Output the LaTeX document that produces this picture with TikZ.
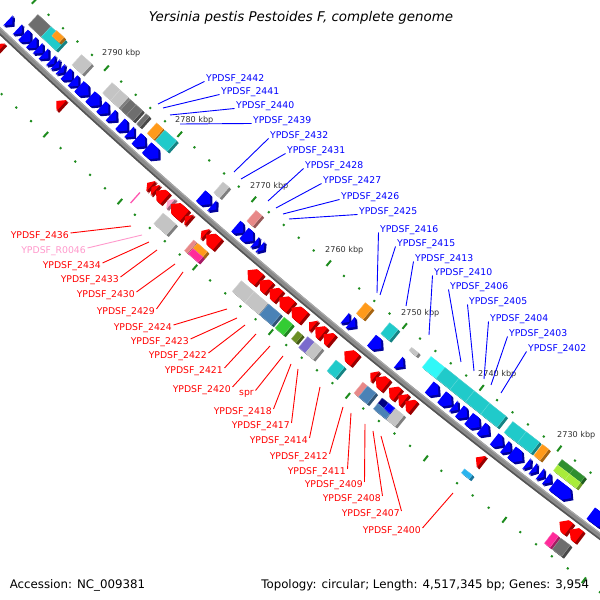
\documentclass[tikz,border=0pt]{standalone}
\usepackage{fontspec}
\setmainfont{DejaVu Sans}
\definecolor{lblue}{HTML}{0000FF}
\definecolor{lred}{HTML}{FF0000}
\definecolor{lpink}{HTML}{FF99CC}
\definecolor{kbpc}{HTML}{333333}
\definecolor{tickg}{HTML}{1E8C1E}
\definecolor{bbgray}{HTML}{8A8A8A}
\definecolor{bbdark}{HTML}{555555}
\definecolor{bblight}{HTML}{AAAAAA}
\definecolor{dgray}{HTML}{6E6E6E}
\definecolor{lgray}{HTML}{C4C4C4}
\definecolor{cyanc}{HTML}{20CACA}
\definecolor{bcyan}{HTML}{30F8F8}
\definecolor{orng}{HTML}{FF9A1A}
\definecolor{salm}{HTML}{E88888}
\definecolor{mgnt}{HTML}{FF2A9A}
\definecolor{steel}{HTML}{4A82B6}
\definecolor{limec}{HTML}{33CC33}
\definecolor{olivec}{HTML}{6B8E23}
\definecolor{slate}{HTML}{7A6ACD}
\definecolor{navyc}{HTML}{000080}
\definecolor{skyb}{HTML}{2AB4EE}
\definecolor{dgrn}{HTML}{2F8F2F}
\definecolor{lgrn}{HTML}{A8EC3A}
\definecolor{trna}{HTML}{FF55B0}
\definecolor{pinka}{HTML}{FFA8CC}
\definecolor{bluea}{HTML}{0000FF}
\definecolor{reda}{HTML}{FF0000}
\definecolor{bluec}{HTML}{0000FF}

\newcommand\gangle[1]{\pgfmathsetmacro\gth{229.97-(#1-2760)*0.0812}}
% box feature: plow phigh o1 o2 colour
\newcommand\featbox[5]{%
  \gangle{#1}%
  \pgfmathsetmacro\gL{(#2-#1)*9.92}%
  \foreach \ex in {2.2,1.5,0.8}{%
    \fill[fill=#5!65!black, shift={(\ex,-\ex)}, shift={(\gth:7000)}, rotate=\gth-90] (0,#3) rectangle (\gL,#4);}%
  \filldraw[fill=#5, draw=#5!70!white, line width=0.35pt, shift={(\gth:7000)}, rotate=\gth-90] (0,#3) rectangle (\gL,#4);%
}
% thin radial stroke feature: pos o1 o2 colour
\newcommand\featline[4]{%
  \gangle{#1}%
  \draw[draw=#4, line width=1.3pt, shift={(\gth:7000)}, rotate=\gth-90] (0,#2) -- (0,#3);%
}
% arrow pointing to higher position
\newcommand\rarrow[5]{%
  \gangle{#1}%
  \pgfmathsetmacro\gL{(#2-#1)*9.92}%
  \pgfmathsetmacro\gb{max(\gL-6.5,0)}%
  \pgfmathsetmacro\gm{(#3+#4)/2}%
  \foreach \ex in {2.2,1.5,0.8}{%
    \fill[fill=#5!60!black, shift={(\ex,-\ex)}, shift={(\gth:7000)}, rotate=\gth-90] (0,#3) -- (\gb,#3) -- (\gL,\gm) -- (\gb,#4) -- (0,#4) -- cycle;}%
  \fill[fill=#5, shift={(\gth:7000)}, rotate=\gth-90] (0,#3) -- (\gb,#3) -- (\gL,\gm) -- (\gb,#4) -- (0,#4) -- cycle;%
}
% arrow pointing to lower position
\newcommand\barrow[5]{%
  \gangle{#1}%
  \pgfmathsetmacro\gL{(#2-#1)*9.92}%
  \pgfmathsetmacro\ga{min(\gL,6.5)}%
  \pgfmathsetmacro\gm{(#3+#4)/2}%
  \foreach \ex in {2.2,1.5,0.8}{%
    \fill[fill=#5!60!black, shift={(\ex,-\ex)}, shift={(\gth:7000)}, rotate=\gth-90] (\gL,#3) -- (\ga,#3) -- (0,\gm) -- (\ga,#4) -- (\gL,#4) -- cycle;}%
  \fill[fill=#5, shift={(\gth:7000)}, rotate=\gth-90] (\gL,#3) -- (\ga,#3) -- (0,\gm) -- (\ga,#4) -- (\gL,#4) -- cycle;%
}

\tikzset{
  lblB/.style={font=\fontsize{9.3}{11}\selectfont, text=lblue, inner sep=0pt, anchor=base west},
  lblR/.style={font=\fontsize{9.3}{11}\selectfont, text=lred, inner sep=0pt, anchor=base east},
  lblP/.style={font=\fontsize{9.3}{11}\selectfont, text=lpink, inner sep=0pt, anchor=base east},
  leadB/.style={draw=lblue, line width=0.9pt},
  leadR/.style={draw=lred, line width=0.9pt},
  leadP/.style={draw=lpink, line width=0.9pt},
  kbp/.style={font=\fontsize{8.1}{9}\selectfont, text=kbpc, inner sep=0pt, anchor=base west},
}

\begin{document}
\begin{tikzpicture}[x=1pt,y=1pt]
\useasboundingbox (0,0) rectangle (600,600);
\fill[white] (0,0) rectangle (600,600);
\begin{scope}
\clip (0,0) rectangle (600,600);
\begin{scope}[shift={(4802pt,5662pt)}]
  % backbone
  \draw[line width=6pt, bbgray] (225.9:7000) arc[start angle=225.9, end angle=234.9, radius=7000pt];
  \draw[line width=1.6pt, bbdark] (225.9:7002.4) arc[start angle=225.9, end angle=234.9, radius=7002.4pt];
  \draw[line width=1.1pt, bblight] (225.9:6997.6) arc[start angle=225.9, end angle=234.9, radius=6997.6pt];
  % tick marks
  \foreach \p in {2700,2702,...,2810}{%
    \gangle{\p}%
    \pgfmathtruncatemacro\gten{mod(\p,10)}%
    \ifnum\gten=0
      \fill[tickg, shift={(\gth:7000)}, rotate=\gth-90] (-1,-48.5) rectangle (1,-41.5) (-1,41.5) rectangle (1,48.5);
    \else
      \fill[tickg, shift={(\gth:7000)}, rotate=\gth-90] (-1,-46) rectangle (1,-44) (-1,44) rectangle (1,46);
    \fi
  }
  % upper boxes
  \foreach \pa/\pb/\oa/\ob/\fc in {
    2797.0/2798.8/-38/-24/dgray, 2795.0/2797.0/-38/-24/cyanc, 2795.3/2796.3/-39/-32/orng,
    2791.4/2792.8/-38/-24/lgray, 2787.5/2788.6/-38/-24/lgray, 2786.4/2787.5/-38/-24/lgray,
    2785.3/2786.1/-38/-24/dgray, 2784.4/2785.3/-38/-24/dgray, 2783.5/2783.95/-38/-24/dgray,
    2781.6/2782.5/-38/-24/orng, 2779.8/2781.4/-38/-24/cyanc, 2772.7/2773.5/-38/-24/lgray,
    2768.3/2769.1/-38/-24/salm, 2753.7/2754.6/-38/-24/orng, 2750.3/2751.4/-38/-24/cyanc,
    2747.2/2748.1/-33/-29/lgray, 2744.2/2746.0/-38/-24/bcyan, 2742.4/2744.2/-38/-24/cyanc,
    2740.4/2742.4/-38/-24/cyanc, 2738.4/2740.4/-38/-24/cyanc, 2736.3/2738.4/-38/-24/cyanc,
    2733.7/2735.4/-38/-24/cyanc, 2732.0/2733.7/-38/-24/cyanc, 2730.8/2731.6/-38/-24/orng,
    2727.6/2729.1/-38/-31/dgrn, 2726.2/2727.6/-38/-31/dgrn,
    2727.6/2729.1/-31/-24/lgrn, 2726.2/2727.6/-31/-24/lgrn}{%
    \featbox{\pa}{\pb}{\oa}{\ob}{\fc}}
  % lower boxes
  \featline{2779.1}{25}{39}{trna}
  \foreach \pa/\pb/\oa/\ob/\fc in {
    2774.3/2776.0/25/39/lgray, 2771.5/2771.9/25/39/salm,
    2770.1/2771.4/25/32/orng, 2770.1/2771.4/32/39/mgnt, 2763.9/2765.6/25/39/lgray,
    2762.1/2763.9/25/39/lgray, 2760.4/2762.0/25/39/steel, 2758.85/2759.95/25/39/limec,
    2757.4/2758.0/27/37/olivec, 2756.0/2756.9/25/39/slate, 2755.0/2756.0/25/39/lgray,
    2752.1/2753.2/25/39/cyanc, 2749.1/2749.7/25/39/salm, 2748.0/2749.1/25/39/steel,
    2746.4/2747.2/25/32/navyc, 2745.6/2747.2/32/39/steel, 2745.6/2746.4/25/32/bluec,
    2744.4/2745.5/25/39/lgray, 2735.3/2736.3/29/34/skyb, 2724.7/2725.4/25/39/mgnt,
    2723.2/2724.4/25/39/dgray}{%
    \featbox{\pa}{\pb}{\oa}{\ob}{\fc}}
  % blue arrows
  \foreach \pa/\pb in {
    2800.0/2800.6, 2798.7/2799.3, 2797.5/2798.5, 2796.6/2797.4, 2795.8/2796.5, 2795.0/2795.7,
    2794.2/2794.7, 2793.6/2794.1, 2792.9/2793.4, 2791.8/2792.7, 2790.9/2791.7, 2789.5/2790.8,
    2788.0/2789.3, 2786.8/2787.8, 2785.7/2786.5, 2784.2/2785.2, 2783.3/2784.0, 2781.8/2783.0,
    2780.0/2781.6, 2773.0/2774.3, 2772.2/2772.8, 2768.6/2769.6, 2767.3/2768.5, 2766.6/2767.1,
    2765.9/2766.4, 2754.6/2755.2, 2753.8/2754.5, 2750.4/2751.7, 2747.5/2748.2, 2743.0/2744.2,
    2741.3/2742.6, 2740.5/2741.1, 2739.3/2740.3, 2737.7/2739.1, 2736.5/2737.5, 2734.7/2735.8,
    2733.7/2734.5, 2732.2/2733.6, 2731.2/2731.7, 2730.4/2730.9, 2729.5/2730.0, 2728.6/2729.2,
    2726.0/2728.3, 2721.5/2723.5}{%
    \barrow{\pa}{\pb}{-20}{-6}{bluea}}
  % red arrows
  \foreach \pa/\pb in {
    2799.2/2799.9, 2790.8/2791.5, 2778.7/2779.2, 2778.1/2778.6, 2776.8/2778.0}{%
    \rarrow{\pa}{\pb}{6}{20}{reda}}
  \rarrow{2776.0}{2776.5}{6}{20}{pinka}
  \foreach \pa/\pb in {
    2774.2/2776.0, 2773.6/2774.1, 2771.4/2771.9, 2769.8/2771.3, 2764.3/2765.8,
    2763.0/2764.2, 2761.7/2762.9, 2760.1/2761.6, 2758.4/2760.0, 2757.1/2757.7,
    2755.9/2756.9, 2754.8/2755.8, 2751.7/2753.1, 2749.1/2749.7, 2747.7/2749.0,
    2746.2/2747.3, 2745.3/2746.1, 2744.2/2745.2, 2735.4/2736.1, 2724.3/2725.5,
    2723.0/2724.2}{%
    \rarrow{\pa}{\pb}{6}{20}{reda}}
\end{scope}
\end{scope}

% kbp labels
\node[kbp] (k2790) at (102,544) {2790 kbp};
\node[kbp] (k2780) at (175,477) {2780 kbp};
\node[kbp] (k2770) at (250,411) {2770 kbp};
\node[kbp] (k2760) at (325,347) {2760 kbp};
\node[kbp] (k2750) at (401,284) {2750 kbp};
\node[kbp] (k2740) at (478,223) {2740 kbp};
\node[kbp] (k2730) at (557,162) {2730 kbp};

% blue labels
\foreach \nm/\lx/\ly/\ex/\ey in {
  2442/206/518.5/158/496, 2441/221/505.5/163/492, 2440/236/491.5/170/485,
  2439/253/476.5/180/476, 2432/270/461.5/234/428, 2431/287/446.5/241/421,
  2428/305/431.5/268/399, 2427/323/416.5/276/392, 2426/341/400.5/283/386,
  2425/359/385.5/289/381, 2416/380/367.5/377/307, 2415/397/353.5/380/305,
  2413/415/338.5/406/294, 2410/434/324.5/429/265, 2406/450/310.5/461/238,
  2405/469/295.5/474/229, 2404/490/278.5/484/221, 2403/509/263.5/491/215,
  2402/528/248.5/501/207}{%
  \node[lblB] (b\nm) at (\lx,\ly) {YPDSF\_\nm};
  \coordinate (eb\nm) at (\ex,\ey);
  \draw[leadB] ([xshift=-1.5pt]b\nm.base west) -- (eb\nm);
}

% red labels
\foreach \nm/\lx/\ly/\ex/\ey in {
  2436/69/361.5/131/374, 2434/101/331.5/149/358, 2433/119/317.5/157/350,
  2430/135/302.5/175/336, 2429/155/285.5/183/328, 2424/172/269.5/227/291,
  2423/189/255.5/237/282, 2422/207/241.5/245/275, 2421/223/226.5/256/266,
  2420/231/207.5/270/254, 2418/272/185.5/291/236, 2417/290/171.5/298/231,
  2414/308/156.5/320/213, 2412/328/140.5/343/193, 2411/346/125.5/351/187,
  2409/363/112.5/365/176, 2408/381/98.5/373/169, 2407/400/83.5/381/164,
  2400/421/66.5/453/107}{%
  \node[lblR] (r\nm) at (\lx,\ly) {YPDSF\_\nm};
  \coordinate (er\nm) at (\ex,\ey);
  \draw[leadR] ([shift={(1.5pt,5.5pt)}]r\nm.base east) -- (er\nm);
}
\node[lblR] (rspr) at (254,204) {spr};
\coordinate (erspr) at (283,244);
\draw[leadR] ([shift={(1.5pt,5.5pt)}]rspr.base east) -- (erspr);
\node[lblP] (rR0046) at (86,346.5) {YPDSF\_R0046};
\coordinate (erR0046) at (142,365);
\draw[leadP] ([shift={(1.5pt,5.5pt)}]rR0046.base east) -- (erR0046);

% title and footer
\node[font=\fontsize{13.4}{16}\selectfont\itshape, inner sep=0pt, anchor=base] (title) at (301,578) {Yersinia pestis Pestoides F, complete genome};
\node[font=\fontsize{11.8}{14}\selectfont, inner sep=0pt, anchor=base west] (acc) at (9.6,12) {Accession: NC\_009381};
\node[font=\fontsize{11.8}{14}\selectfont, inner sep=0pt, anchor=base east] (topo) at (589.4,12) {Topology: circular; Length: 4,517,345 bp; Genes: 3,954};
\end{tikzpicture}
\end{document}
